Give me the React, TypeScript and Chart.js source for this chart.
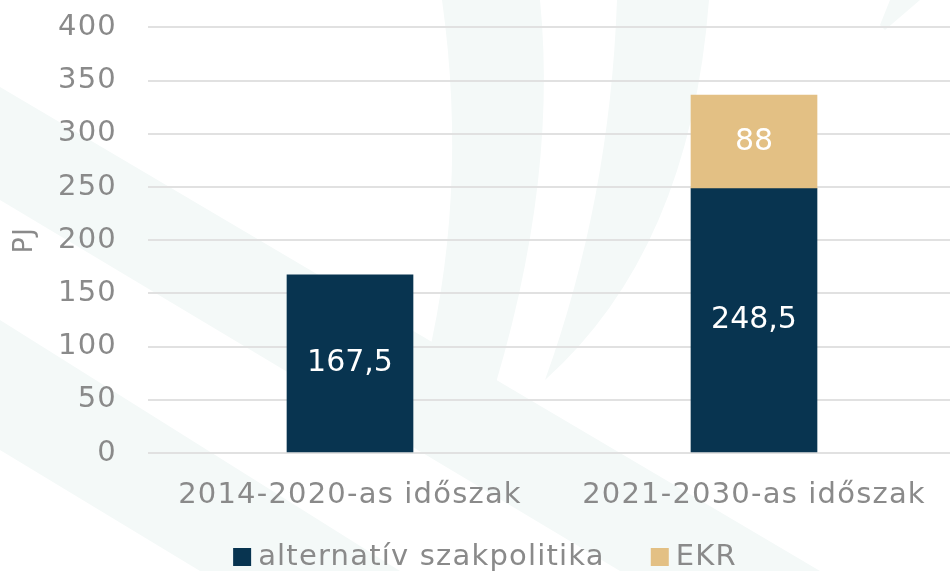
import React, { useEffect, useRef } from "react";
import { Chart, registerables } from "chart.js";

Chart.register(...registerables);

const categories = ["2014-2020-as időszak", "2021-2030-as időszak"];
const alternativValues = [167.5, 248.5];
const ekrValues = [null, 88];
const seriesNames = ["alternatív szakpolitika", "EKR"];
const yTicks = [0, 50, 100, 150, 200, 250, 300, 350, 400];
const yTitle = "PJ";

const FONT = "'DejaVu Sans'";
const WEIGHT = "400";
const SPACING = "1.2px";
const NAVY = "#083450";
const TAN = "#e3c084";
const GRAY = "#8a8a8a";

const fmt = (v: number) => String(v).replace(".", ",");

const setSpacing = (chart: any) => {
  try {
    chart.ctx.letterSpacing = SPACING;
  } catch (e) {}
};

const spacingPlugin = {
  id: "spacing",
  beforeInit: setSpacing,
  beforeUpdate: setSpacing,
  beforeLayout: setSpacing,
  beforeDraw: setSpacing,
};

const watermark = {
  id: "watermark",
  beforeDraw(chart: any) {
    const ctx = chart.ctx;
    ctx.save();
    ctx.fillStyle = "#f4f9f8";
    const polys = [
      [[0, 87], [0, 200], [620, 571], [820, 571]],
      [[0, 320], [0, 450], [200, 571], [400, 571]],
    ];
    for (const p of polys) {
      ctx.beginPath();
      ctx.moveTo(p[0][0], p[0][1]);
      for (let i = 1; i < p.length; i++) ctx.lineTo(p[i][0], p[i][1]);
      ctx.closePath();
      ctx.fill();
    }
    ctx.beginPath();
    ctx.moveTo(442, 0);
    ctx.lineTo(540, 0);
    ctx.quadraticCurveTo(560, 200, 477, 442);
    ctx.lineTo(421, 386);
    ctx.quadraticCurveTo(470, 200, 442, 0);
    ctx.closePath();
    ctx.fill();
    ctx.beginPath();
    ctx.moveTo(617, 0);
    ctx.lineTo(709, 0);
    ctx.quadraticCurveTo(690, 250, 545, 380);
    ctx.quadraticCurveTo(610, 200, 617, 0);
    ctx.closePath();
    ctx.fill();
    ctx.beginPath();
    ctx.moveTo(890, 0);
    ctx.lineTo(920, 0);
    ctx.lineTo(885, 30);
    ctx.lineTo(880, 25);
    ctx.closePath();
    ctx.fill();
    ctx.restore();
  },
};

const labelsPlugin = {
  id: "labelsPlugin",
  afterDatasetsDraw(chart: any) {
    const ctx = chart.ctx;
    ctx.save();
    ctx.letterSpacing = "0px";
    ctx.fillStyle = "#ffffff";
    ctx.font = `${WEIGHT} 30px ${FONT}`;
    ctx.textAlign = "center";
    ctx.textBaseline = "middle";
    chart.data.datasets.forEach((ds: any, di: number) => {
      const meta = chart.getDatasetMeta(di);
      meta.data.forEach((bar: any, i: number) => {
        const v = ds.data[i];
        if (v == null) return;
        ctx.fillText(fmt(v), bar.x, (bar.y + bar.base) / 2);
      });
    });
    ctx.restore();
  },
  afterDraw(chart: any) {
    const ctx = chart.ctx;
    const area = chart.chartArea;
    ctx.save();
    ctx.fillStyle = GRAY;
    ctx.font = `${WEIGHT} 27px ${FONT}`;
    ctx.textAlign = "center";
    ctx.textBaseline = "middle";
    ctx.translate(25, (area.top + area.bottom) / 2);
    ctx.rotate(-Math.PI / 2);
    ctx.fillText(yTitle, 0, 0);
    ctx.restore();

    ctx.save();
    ctx.font = `${WEIGHT} 29px ${FONT}`;
    ctx.textBaseline = "middle";
    ctx.textAlign = "left";
    const box = 18;
    const gap = 7;
    const itemGap = 46;
    const items = chart.data.datasets.map((ds: any) => ({
      text: ds.label,
      color: ds.backgroundColor,
      w: box + gap + ctx.measureText(ds.label).width,
    }));
    const total = items.reduce((s: number, it: any) => s + it.w, 0) + itemGap * (items.length - 1);
    let x = 485 - total / 2;
    const cy = 557;
    for (const it of items) {
      ctx.fillStyle = it.color;
      ctx.fillRect(x, cy - box / 2, box, box);
      ctx.fillStyle = GRAY;
      ctx.fillText(it.text, x + box + gap, cy);
      x += it.w + itemGap;
    }
    ctx.restore();
  },
};

export default function App() {
  const ref = useRef<HTMLCanvasElement>(null);
  useEffect(() => {
    document.body.style.margin = "0";
    document.body.style.overflow = "hidden";
    const tickFont = { family: FONT, size: 29, weight: WEIGHT as any };
    const chart = new Chart(ref.current!, {
      type: "bar",
      data: {
        labels: categories,
        datasets: [
          { label: seriesNames[0], data: alternativValues, backgroundColor: NAVY, barThickness: 126 },
          { label: seriesNames[1], data: ekrValues as any, backgroundColor: TAN, barThickness: 126 },
        ],
      },
      options: {
        animation: false,
        responsive: false,
        layout: { padding: { top: 0, right: 0, left: 0, bottom: 38 } },
        plugins: {
          tooltip: { enabled: false },
          legend: { display: false },
        },
        scales: {
          x: {
            stacked: true,
            grid: { display: false },
            border: { display: false },
            ticks: { color: GRAY, font: tickFont, padding: 17 },
            afterFit(scale: any) {
              scale.height = 80;
            },
          },
          y: {
            stacked: true,
            min: 0,
            max: 400,
            afterBuildTicks(scale: any) {
              scale.ticks = yTicks.map((v) => ({ value: v }));
            },
            grid: {
              color: "#e1e1e1",
              lineWidth: 2,
              drawTicks: true,
              tickLength: 21,
              tickColor: "rgba(0,0,0,0)",
            },
            border: { display: false },
            ticks: { color: GRAY, font: tickFont, padding: 10 },
            afterFit(scale: any) {
              scale.width = 148;
            },
          },
        },
      },
      plugins: [spacingPlugin, watermark, labelsPlugin],
    });
    return () => chart.destroy();
  }, []);
  return (
    <div style={{ width: 950, height: 571, overflow: "hidden" }}>
      <canvas ref={ref} width={956} height={571} style={{ display: "block" }} />
    </div>
  );
}
